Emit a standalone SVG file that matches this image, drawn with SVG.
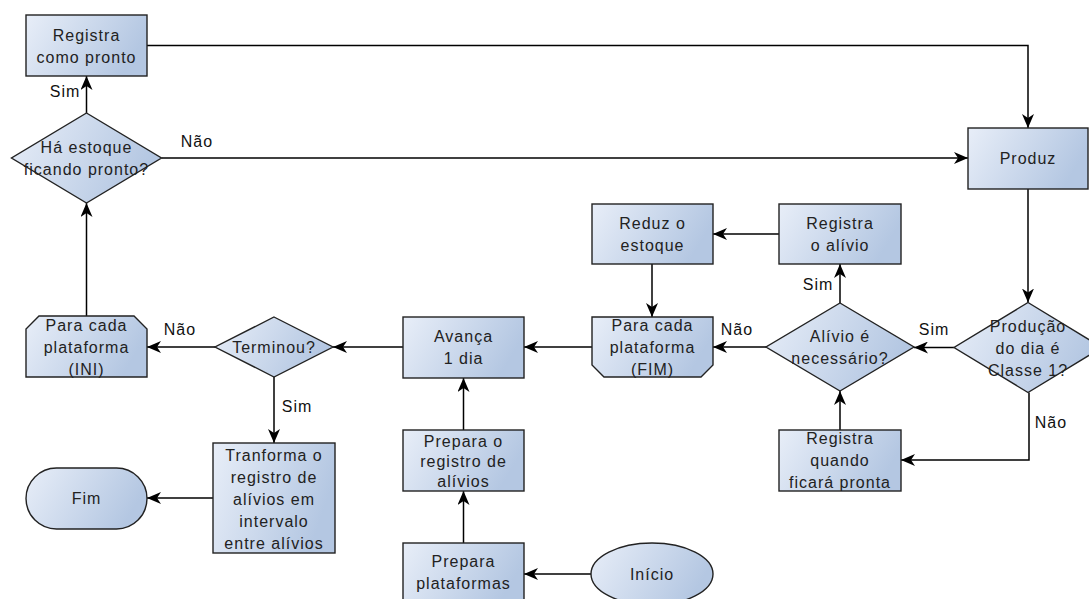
<svg xmlns="http://www.w3.org/2000/svg" width="1089" height="599" viewBox="0 0 1089 599">
<defs>
<linearGradient id="g" x1="0" y1="0" x2="1" y2="0.3">
<stop offset="0" stop-color="#e8eef8"/>
<stop offset="1" stop-color="#b4c7e2"/>
</linearGradient>
<marker id="arr" markerUnits="userSpaceOnUse" viewBox="0 0 14 12" refX="14" refY="6" markerWidth="14" markerHeight="12" orient="auto">
<path d="M0,0 L14,6 L0,12 L4,6 Z" fill="#000"/>
</marker>
<style>
.n{fill:url(#g);stroke:#222;stroke-width:1.4}
.t{font-family:"Liberation Sans",Arial,sans-serif;font-size:16px;letter-spacing:1px;fill:#222;text-anchor:middle}
.l{font-family:"Liberation Sans",Arial,sans-serif;font-size:16px;letter-spacing:1px;fill:#111;text-anchor:middle}
.e{fill:none;stroke:#000;stroke-width:1.5;marker-end:url(#arr)}
</style>
</defs>
<rect width="1089" height="599" fill="#fff"/>
<g id="connectors">
<path class="e" d="M147,45.5 H1028 V128"/>
<path class="e" d="M161.5,158 H968"/>
<path class="e" d="M86.5,113 V76"/>
<path class="e" d="M86.5,316 V203"/>
<path class="e" d="M1028,189 V302.5"/>
<path class="e" d="M954,347.5 H914"/>
<path class="e" d="M1029,392.5 V460 H901"/>
<path class="e" d="M840,430 V391"/>
<path class="e" d="M840,303 V264"/>
<path class="e" d="M779,234 H713"/>
<path class="e" d="M652,264 V317"/>
<path class="e" d="M766,347 H713"/>
<path class="e" d="M592,347 H524"/>
<path class="e" d="M403,347 H333"/>
<path class="e" d="M215,347 H147"/>
<path class="e" d="M274,377 V443"/>
<path class="e" d="M213,498 H147"/>
<path class="e" d="M463.5,430 V378"/>
<path class="e" d="M463.5,543 V491"/>
<path class="e" d="M591,574 H524"/>
<text class="l" x="65" y="97">Sim</text>
<text class="l" x="197" y="147">Não</text>
<text class="l" x="818" y="290">Sim</text>
<text class="l" x="737" y="335">Não</text>
<text class="l" x="934" y="335">Sim</text>
<text class="l" x="1051" y="428">Não</text>
<text class="l" x="180" y="335">Não</text>
<text class="l" x="297" y="412">Sim</text>
</g>
<g id="registra-pronto">
<rect class="n" x="26" y="15" width="121" height="61"/>
<text class="t" x="86.5" y="40.5">Registra</text>
<text class="t" x="86.5" y="62.5">como pronto</text>
</g>
<g id="ha-estoque">
<polygon class="n" points="86.5,113 161.5,158 86.5,203 11.5,158"/>
<text class="t" x="86.5" y="152.5">Há estoque</text>
<text class="t" x="86.5" y="174.5">ficando pronto?</text>
</g>
<g id="produz">
<rect class="n" x="968" y="128" width="120" height="61"/>
<text class="t" x="1028" y="164">Produz</text>
</g>
<g id="producao">
<polygon class="n" points="1028,302.5 1102,347.5 1028,392.5 954,347.5"/>
<text class="t" x="1028" y="331.5">Produção</text>
<text class="t" x="1028" y="353.5">do dia é</text>
<text class="t" x="1028" y="375.5">Classe 1?</text>
</g>
<g id="alivio-necessario">
<polygon class="n" points="840,303 914,347 840,391 766,347"/>
<text class="t" x="840" y="342">Alívio é</text>
<text class="t" x="840" y="364">necessário?</text>
</g>
<g id="registra-alivio">
<rect class="n" x="779" y="204" width="122" height="60"/>
<text class="t" x="840" y="228.5">Registra</text>
<text class="t" x="840" y="250.5">o alívio</text>
</g>
<g id="reduz-estoque">
<rect class="n" x="592" y="204" width="121" height="60"/>
<text class="t" x="652.5" y="228.5">Reduz o</text>
<text class="t" x="652.5" y="250.5">estoque</text>
</g>
<g id="para-fim">
<polygon class="n" points="592,317 713,317 713,365 701,377 604,377 592,365"/>
<text class="t" x="652.5" y="331">Para cada</text>
<text class="t" x="652.5" y="353">plataforma</text>
<text class="t" x="652.5" y="375">(FIM)</text>
</g>
<g id="registra-quando">
<rect class="n" x="779" y="430" width="122" height="61"/>
<text class="t" x="840" y="444">Registra</text>
<text class="t" x="840" y="466">quando</text>
<text class="t" x="840" y="488">ficará pronta</text>
</g>
<g id="avanca">
<rect class="n" x="403" y="317" width="121" height="61"/>
<text class="t" x="463.5" y="342">Avança</text>
<text class="t" x="463.5" y="364">1 dia</text>
</g>
<g id="terminou">
<polygon class="n" points="274,317 333,347 274,377 215,347"/>
<text class="t" x="274" y="353">Terminou?</text>
</g>
<g id="para-ini">
<polygon class="n" points="39,316 134,316 147,329 147,377 26,377 26,329"/>
<text class="t" x="86.5" y="331">Para cada</text>
<text class="t" x="86.5" y="353">plataforma</text>
<text class="t" x="86.5" y="375">(INI)</text>
</g>
<g id="tranforma">
<rect class="n" x="213" y="443" width="122" height="110"/>
<text class="t" x="274" y="460.5">Tranforma o</text>
<text class="t" x="274" y="482.5">registro de</text>
<text class="t" x="274" y="504.5">alívios em</text>
<text class="t" x="274" y="526.5">intervalo</text>
<text class="t" x="274" y="548.5">entre alívios</text>
</g>
<g id="fim">
<rect class="n" x="26" y="468" width="121" height="61" rx="30.5" ry="30.5"/>
<text class="t" x="86.5" y="504">Fim</text>
</g>
<g id="prepara-registro">
<rect class="n" x="403" y="430" width="121" height="61"/>
<text class="t" x="463.5" y="447">Prepara o</text>
<text class="t" x="463.5" y="467">registro de</text>
<text class="t" x="463.5" y="487">alívios</text>
</g>
<g id="prepara-plataformas">
<rect class="n" x="403" y="543" width="121" height="61"/>
<text class="t" x="463.5" y="567">Prepara</text>
<text class="t" x="463.5" y="589">plataformas</text>
</g>
<g id="inicio">
<ellipse class="n" cx="652" cy="574" rx="61" ry="31"/>
<text class="t" x="652" y="580">Início</text>
</g>
</svg>
